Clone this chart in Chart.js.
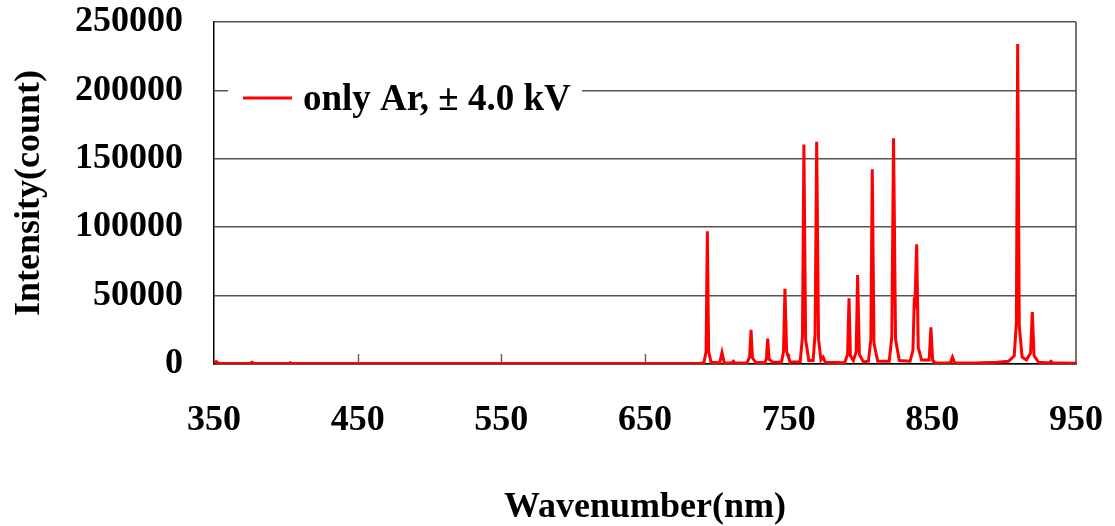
<!DOCTYPE html>
<html>
<head>
<meta charset="utf-8">
<script src="https://cdn.jsdelivr.net/npm/chart.js@4.4.1/dist/chart.umd.min.js"></script>
<style>
  html, body { margin: 0; padding: 0; background: #fff; }
  #wrap { width: 1115px; height: 526px; }
</style>
</head>
<body>
<div id="wrap"><canvas id="specChart" width="1115" height="526"></canvas></div>
<script>
// Emission spectrum, wavelength in nm and intensity in counts
const wavelengths = [
  350, 351.5, 353.5, 375, 376.5, 378, 402, 403, 404.5, 500, 600, 688,
  691, 692.5, 693.4, 694.3, 696, 702, 703.6, 705.2, 710.5, 711.5, 712.5,
  721, 722.8, 723.8, 724.8, 727, 733.5, 734.5, 735.4, 736.4, 739,
  745, 746.4, 747.4, 748.6, 751, 758, 759.6, 760.6, 761.8, 764,
  767, 768.4, 769.5, 770.8, 772.5, 774, 775.5, 789, 791, 792, 793, 795,
  797, 798, 799.2, 802, 805.5, 807.2, 808.2, 809.4, 812,
  820, 821.8, 823, 824.4, 827, 834.5, 836.5, 837.4, 837.9, 839.1, 840.2, 842.5,
  847.8, 849, 850.2, 852, 862.5, 864, 865.5, 880, 895, 903,
  907, 908.5, 909.4, 910.5, 912.5, 915.5, 918.4, 919.6, 920.8, 924,
  931.5, 932.6, 933.8, 940, 950
];
const counts = [
  600, 1800, 300, 400, 1300, 400, 300, 900, 300, 300, 300, 400,
  1000, 9000, 97000, 9000, 1200, 900, 8500, 900, 700, 2000, 700,
  900, 5000, 25000, 4500, 1200, 1000, 4000, 18500, 3500, 1200,
  1200, 9000, 55000, 9000, 1500, 1500, 20000, 160500, 18000, 2500,
  2500, 22000, 162500, 18000, 3000, 5000, 1200, 1000, 7000, 48000, 6000, 2500,
  9000, 65000, 7000, 1500, 2000, 18000, 142300, 15000, 2000,
  2000, 20000, 165000, 18000, 2500, 2000, 10000, 45000, 44000, 87500, 12000, 3000,
  3000, 26800, 3000, 800, 700, 5000, 700, 800, 1200, 2000,
  6000, 30000, 234000, 28000, 5000, 3000, 8000, 38000, 6000, 1200,
  800, 2000, 800, 700, 600
];
const seriesLabel = 'only Ar, \u00b1 4.0 kV';
const xTicks = [350, 450, 550, 650, 750, 850, 950];
const yTicks = [0, 50000, 100000, 150000, 200000, 250000];

const serif = '"Liberation Serif", "Times New Roman", serif';
const clear = 'rgba(0,0,0,0)';

// Inside tick marks on the x axis, right border and the legend box
const framePlugin = {
  id: 'frame',
  beforeDatasetsDraw(chart) {
    const { ctx, chartArea: a, scales } = chart;
    ctx.save();
    ctx.strokeStyle = '#666';
    ctx.lineWidth = 1.5;
    xTicks.slice(1, -1).forEach(v => {
      const px = Math.round(scales.x.getPixelForValue(v)) + 0.5;
      ctx.beginPath();
      ctx.moveTo(px, a.bottom);
      ctx.lineTo(px, a.bottom - 10);
      ctx.stroke();
    });
    ctx.strokeStyle = '#444';
    ctx.beginPath();
    ctx.moveTo(a.right, a.top);
    ctx.lineTo(a.right, a.bottom);
    ctx.stroke();

    // legend
    ctx.fillStyle = '#fff';
    ctx.fillRect(a.left + 14, a.top + 50, 354, 52);
    ctx.strokeStyle = '#ff0000';
    ctx.lineWidth = 3;
    ctx.beginPath();
    ctx.moveTo(a.left + 29, a.top + 76);
    ctx.lineTo(a.left + 78, a.top + 76);
    ctx.stroke();
    ctx.fillStyle = '#000';
    ctx.font = 'bold 37px ' + serif;
    ctx.textBaseline = 'middle';
    ctx.fillText(chart.data.datasets[0].label, a.left + 89, a.top + 78);
    ctx.restore();
  }
};

const ctx = document.getElementById('specChart').getContext('2d');
const specChart = new Chart(ctx, {
  type: 'line',
  data: {
    datasets: [{
      label: seriesLabel,
      data: wavelengths.map((w, i) => ({ x: w, y: counts[i] })),
      borderColor: '#ff0000',
      borderWidth: 3,
      pointRadius: 0,
      tension: 0,
      fill: false
    }]
  },
  options: {
    responsive: false,
    animation: false,
    layout: { padding: { left: 0, right: 39, top: 22, bottom: 0 } },
    plugins: {
      legend: { display: false },
      tooltip: { enabled: false }
    },
    scales: {
      x: {
        type: 'linear',
        min: 350,
        max: 950,
        afterBuildTicks: s => { s.ticks = xTicks.map(v => ({ value: v })); },
        afterFit: s => { s.height = 162; },
        // tick marks kept invisible, they only push the labels down
        grid: { drawOnChartArea: false, drawTicks: true, tickLength: 35, tickColor: clear, color: clear },
        border: { color: '#000', width: 1.5 },
        ticks: {
          color: '#000',
          padding: 0,
          maxRotation: 0,
          font: { family: serif, size: 36, weight: 'bold' }
        },
        title: {
          display: true,
          text: 'Wavenumber(nm)',
          color: '#000',
          padding: { top: 0, bottom: 0 },
          font: { family: serif, size: 36, weight: 'bold', lineHeight: 1 }
        }
      },
      y: {
        min: 0,
        max: 250000,
        afterBuildTicks: s => { s.ticks = yTicks.map(v => ({ value: v })); },
        afterFit: s => { s.width = 214; },
        grid: { color: '#555', lineWidth: 1.5, drawTicks: true, tickLength: 31, tickColor: clear },
        border: { color: '#000', width: 1.5 },
        ticks: {
          color: '#000',
          padding: 0,
          callback: v => String(v),
          font: { family: serif, size: 36, weight: 'bold' }
        },
        title: {
          display: true,
          text: 'Intensity(count)',
          color: '#000',
          padding: { top: 8, bottom: 0 },
          font: { family: serif, size: 36, weight: 'bold' }
        }
      }
    }
  },
  plugins: [framePlugin]
});
</script>
</body>
</html>
